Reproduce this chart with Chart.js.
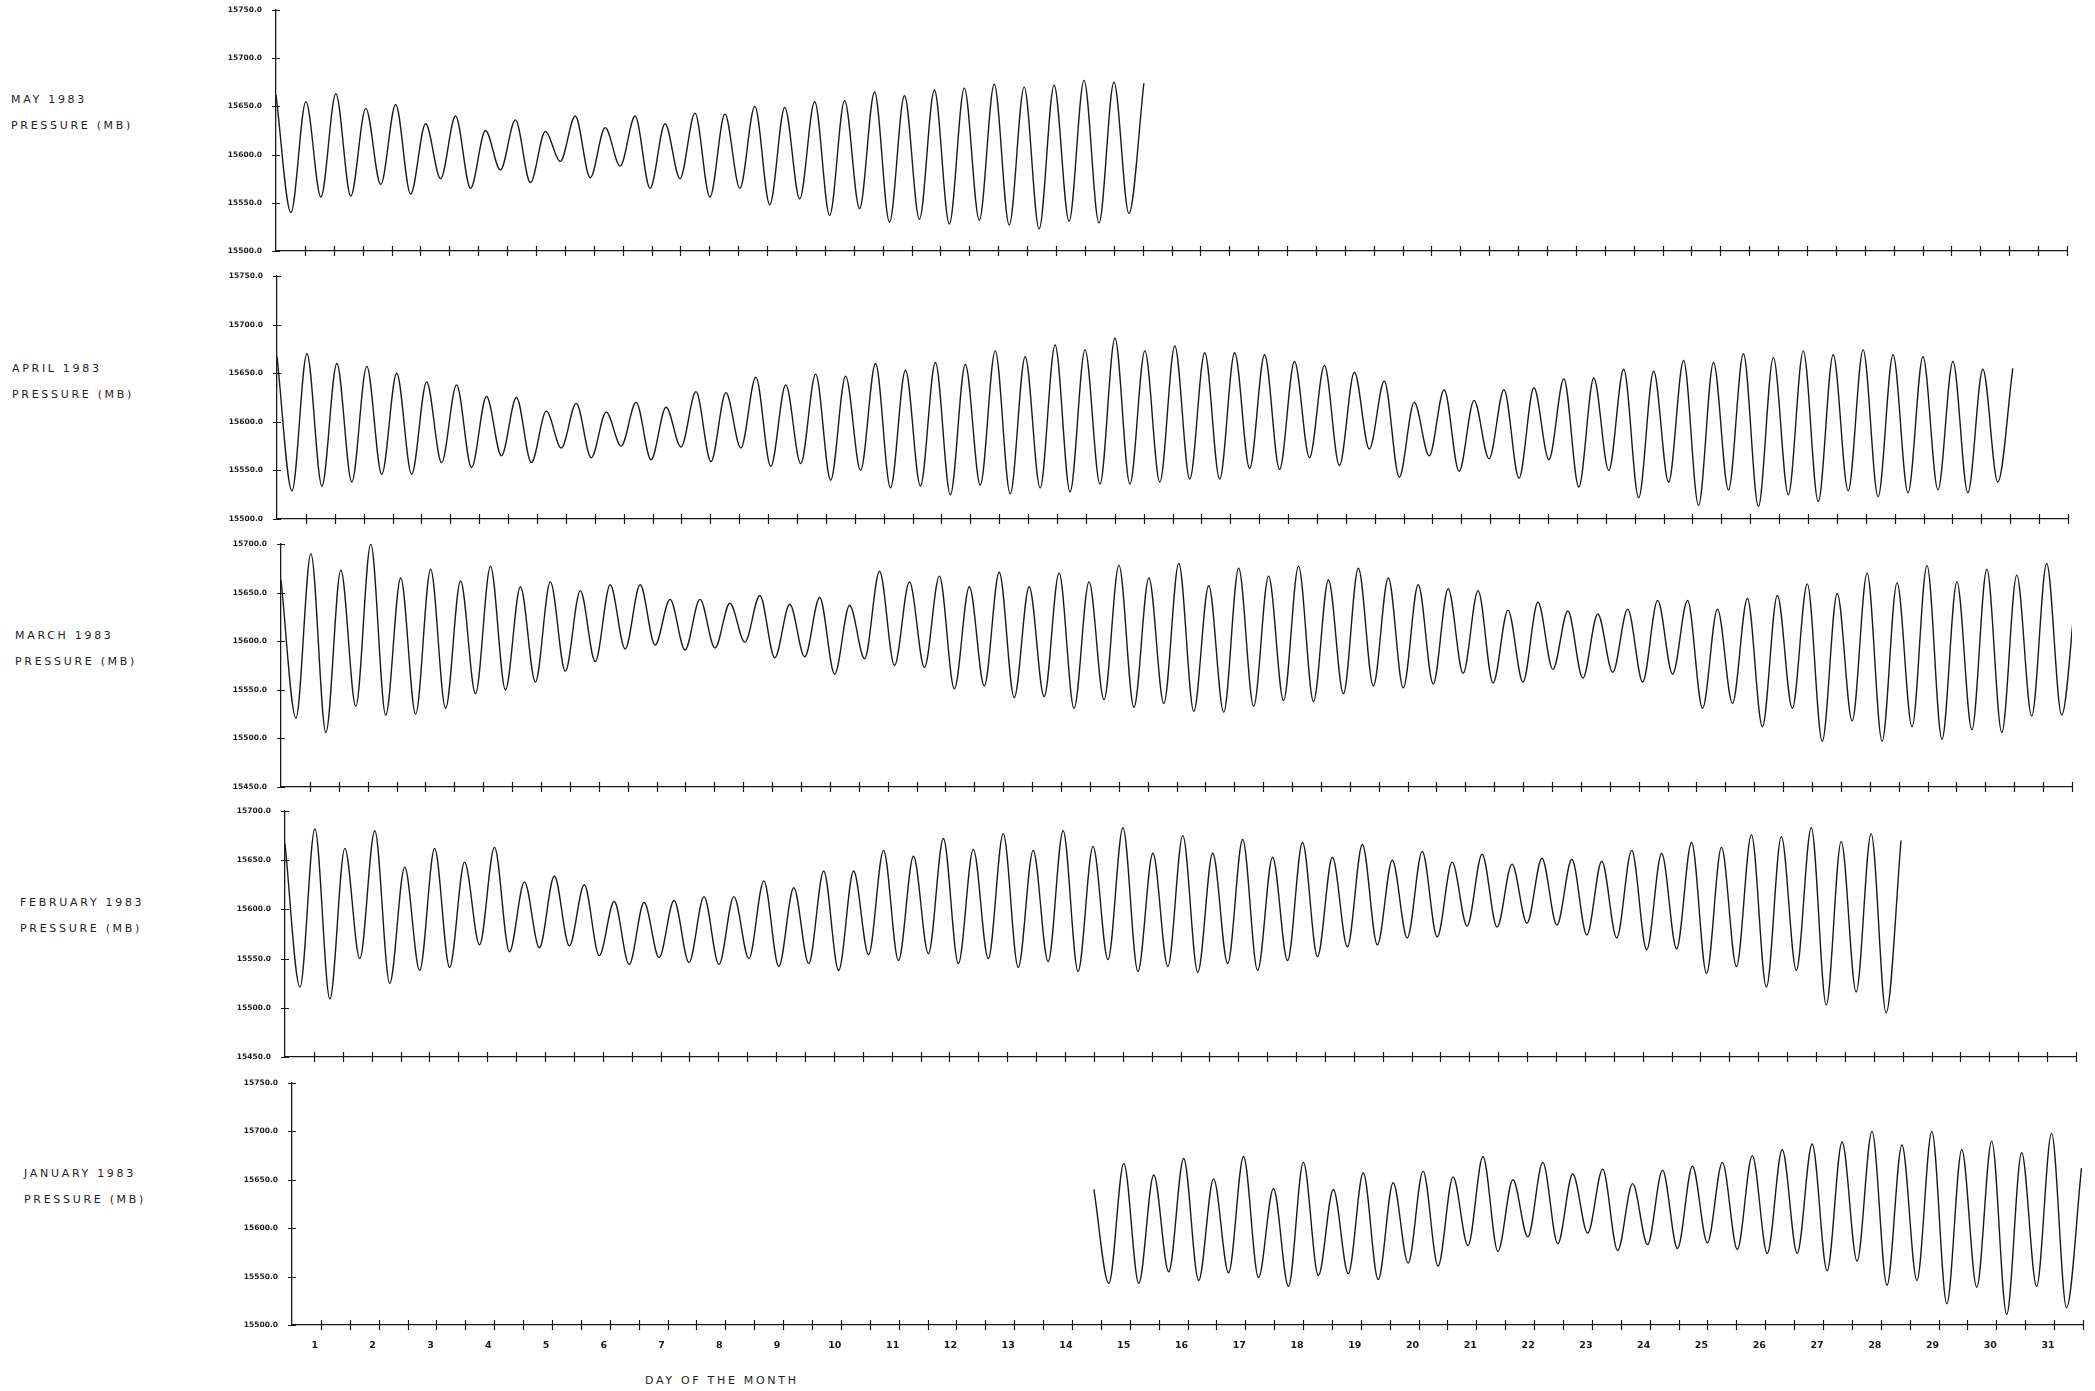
<!DOCTYPE html>
<html>
<head>
<meta charset="utf-8">
<title>Pressure (MB), January - May 1983</title>
<script src="https://cdn.jsdelivr.net/npm/chart.js@4.4.1/dist/chart.umd.min.js"></script>
<style>
  html, body { margin: 0; padding: 0; background: #fff; }
  #page { position: relative; width: 2095px; height: 1391px; overflow: hidden; background: #fff; }
  #page canvas { position: absolute; }
  .lbl {
    position: absolute;
    font-family: "DejaVu Sans", sans-serif;
    font-size: 11px;
    letter-spacing: 2.7px;
    line-height: 26px;
    color: #1e1e1e;
    white-space: pre;
  }
</style>
</head>
<body>
<div id="page"></div>
<script>
// tick labels along the bottom axis
const dayLabels = ['1', '2', '3', '4', '5', '6', '7', '8', '9', '10', '11', '12', '13', '14', '15', '16',
  '17', '18', '19', '20', '21', '22', '23', '24', '25', '26', '27', '28', '29', '30', '31'];

// time between a high and the next low (days)
const halfCycle = 0.259;

// highs and lows of each month's trace, in time order (mb)
const mayStart = 0.5;
const mayHigh = [15662, 15655, 15663, 15648, 15652, 15632, 15640, 15625, 15636, 15624,
  15640, 15628, 15640, 15632, 15643, 15642, 15650, 15649, 15655, 15656,
  15665, 15661, 15667, 15669, 15673, 15670, 15672, 15677, 15675, 15674];
const mayLow = [15540, 15556, 15557, 15569, 15559, 15575, 15565, 15584, 15571, 15593,
  15576, 15588, 15565, 15575, 15556, 15565, 15548, 15554, 15537, 15544,
  15530, 15533, 15528, 15532, 15527, 15523, 15531, 15529, 15539];

const aprStart = 0.5;
const aprHigh = [15667, 15670, 15660, 15657, 15650, 15641, 15638, 15626, 15625, 15611,
  15619, 15610, 15620, 15615, 15631, 15630, 15646, 15638, 15649, 15647,
  15660, 15653, 15661, 15659, 15673, 15667, 15679, 15674, 15686, 15673,
  15678, 15671, 15671, 15669, 15662, 15658, 15651, 15642, 15620, 15633,
  15622, 15633, 15635, 15644, 15645, 15654, 15652, 15663, 15661, 15670,
  15666, 15673, 15669, 15674, 15669, 15667, 15662, 15654, 15655];
const aprLow = [15529, 15534, 15538, 15546, 15546, 15558, 15553, 15565, 15558, 15573,
  15563, 15575, 15561, 15574, 15559, 15573, 15554, 15557, 15540, 15550,
  15532, 15534, 15525, 15535, 15526, 15532, 15528, 15536, 15536, 15538,
  15541, 15541, 15552, 15551, 15563, 15555, 15572, 15543, 15565, 15549,
  15562, 15542, 15561, 15533, 15550, 15522, 15538, 15514, 15530, 15513,
  15525, 15518, 15529, 15523, 15527, 15530, 15527, 15538];

const marStart = 0.5;
const marHigh = [15663, 15690, 15673, 15700, 15665, 15674, 15662, 15677, 15656, 15661,
  15652, 15658, 15658, 15643, 15643, 15639, 15647, 15638, 15645, 15637,
  15672, 15661, 15667, 15656, 15671, 15656, 15670, 15661, 15678, 15665,
  15680, 15657, 15675, 15667, 15677, 15663, 15675, 15665, 15658, 15654,
  15652, 15632, 15640, 15631, 15628, 15633, 15642, 15642, 15633, 15644,
  15647, 15659, 15649, 15670, 15660, 15678, 15661, 15674, 15668, 15680,
  15662];
const marLow = [15521, 15506, 15533, 15524, 15525, 15531, 15546, 15550, 15558, 15569,
  15579, 15592, 15596, 15591, 15593, 15599, 15583, 15584, 15566, 15582,
  15575, 15573, 15551, 15554, 15542, 15543, 15531, 15540, 15532, 15536,
  15528, 15527, 15533, 15539, 15538, 15546, 15554, 15552, 15556, 15567,
  15557, 15558, 15571, 15562, 15568, 15558, 15566, 15531, 15536, 15512,
  15531, 15497, 15518, 15497, 15512, 15499, 15509, 15506, 15523, 15524];

const febStart = 0.5;
const febHigh = [15667, 15682, 15662, 15680, 15643, 15662, 15648, 15663, 15628, 15634,
  15625, 15608, 15607, 15609, 15613, 15613, 15629, 15622, 15639, 15639,
  15660, 15654, 15672, 15661, 15677, 15660, 15680, 15664, 15683, 15657,
  15675, 15657, 15671, 15653, 15668, 15653, 15666, 15650, 15659, 15648,
  15656, 15646, 15652, 15651, 15649, 15660, 15657, 15668, 15663, 15676,
  15674, 15683, 15669, 15677, 15670];
const febLow = [15521, 15509, 15550, 15525, 15538, 15541, 15564, 15557, 15561, 15563,
  15553, 15544, 15551, 15546, 15544, 15550, 15542, 15545, 15538, 15554,
  15548, 15555, 15545, 15550, 15541, 15547, 15537, 15549, 15537, 15542,
  15536, 15545, 15538, 15548, 15552, 15562, 15564, 15571, 15572, 15583,
  15582, 15586, 15584, 15574, 15571, 15559, 15560, 15535, 15542, 15521,
  15538, 15503, 15516, 15495];

const janStart = 14.38;
const janHigh = [15640, 15667, 15655, 15672, 15651, 15674, 15641, 15668, 15640, 15657,
  15647, 15659, 15653, 15674, 15650, 15668, 15656, 15661, 15646, 15660,
  15664, 15668, 15675, 15681, 15687, 15689, 15700, 15686, 15700, 15681,
  15690, 15678, 15698, 15662];
const janLow = [15543, 15543, 15555, 15546, 15554, 15549, 15540, 15551, 15553, 15547,
  15564, 15561, 15582, 15576, 15591, 15584, 15595, 15577, 15583, 15579,
  15585, 15578, 15574, 15574, 15556, 15566, 15541, 15546, 15522, 15539,
  15511, 15540, 15518];

// ---- drawing ----
const ink = '#1a1a1a';
const pxPerDay = 57.76;
const yAxisW = 80, padTop = 8, padRight = 10;

// alternate high, low, high ... starting at the given day
function tideSeries(highs, lows, start) {
  const pts = [];
  for (let i = 0; i < highs.length; i++) {
    pts.push({ x: start + 2 * i * halfCycle, y: highs[i] });
    if (i < lows.length) pts.push({ x: start + (2 * i + 1) * halfCycle, y: lows[i] });
  }
  return pts;
}

// plotter style "+" ticks crossing both axes
const crossTicks = {
  id: 'crossTicks',
  afterDraw(chart) {
    const { ctx, chartArea, scales } = chart;
    ctx.save();
    ctx.strokeStyle = ink;
    ctx.lineWidth = 1.2;
    ctx.beginPath();
    scales.x.ticks.forEach(t => {
      if (t.value <= scales.x.min) return;
      const px = Math.round(scales.x.getPixelForValue(t.value)) + 0.5;
      ctx.moveTo(px, chartArea.bottom - 5);
      ctx.lineTo(px, chartArea.bottom + 5);
    });
    scales.y.ticks.forEach(t => {
      const py = Math.round(scales.y.getPixelForValue(t.value)) + 0.5;
      ctx.moveTo(chartArea.left - 4, py);
      ctx.lineTo(chartArea.left + 4, py);
    });
    ctx.stroke();
    ctx.restore();
  }
};

const panels = [
  { title: 'MAY 1983', high: mayHigh, low: mayLow, start: mayStart, yMin: 15500, yMax: 15750,
    left: 275.5, top: 10, bottom: 251, lx: 11, ly: 100 },
  { title: 'APRIL 1983', high: aprHigh, low: aprLow, start: aprStart, yMin: 15500, yMax: 15750,
    left: 277, top: 276, bottom: 519, lx: 12, ly: 369 },
  { title: 'MARCH 1983', high: marHigh, low: marLow, start: marStart, yMin: 15450, yMax: 15700,
    left: 280.5, top: 544, bottom: 787, lx: 15, ly: 636 },
  { title: 'FEBRUARY 1983', high: febHigh, low: febLow, start: febStart, yMin: 15450, yMax: 15700,
    left: 285, top: 811, bottom: 1057, lx: 20, ly: 903 },
  { title: 'JANUARY 1983', high: janHigh, low: janLow, start: janStart, yMin: 15500, yMax: 15750,
    left: 291.5, top: 1083, bottom: 1325, lx: 24, ly: 1174, bottomAxis: true }
];

const page = document.getElementById('page');

panels.forEach(p => {
  const label = document.createElement('div');
  label.className = 'lbl';
  label.style.left = p.lx + 'px';
  label.style.top = (p.ly - 13) + 'px';
  label.textContent = p.title + '\nPRESSURE (MB)';
  page.appendChild(label);

  const xAxisH = p.bottomAxis ? 40 : 10;
  const canvas = document.createElement('canvas');
  canvas.width = yAxisW + Math.round(31 * pxPerDay) + padRight;
  canvas.height = padTop + Math.round(p.bottom - p.top) + xAxisH;
  canvas.style.left = Math.round(p.left - yAxisW) + 'px';
  canvas.style.top = Math.round(p.top - padTop) + 'px';
  page.appendChild(canvas);

  new Chart(canvas.getContext('2d'), {
    type: 'line',
    data: {
      datasets: [{
        label: p.title,
        data: tideSeries(p.high, p.low, p.start),
        borderColor: ink,
        borderWidth: 1.4,
        pointRadius: 0,
        fill: false,
        cubicInterpolationMode: 'monotone'
      }]
    },
    options: {
      responsive: false,
      animation: false,
      devicePixelRatio: 1,
      layout: { padding: { top: padTop, right: padRight, left: 0, bottom: 0 } },
      plugins: { legend: { display: false }, tooltip: { enabled: false } },
      scales: {
        x: {
          type: 'linear',
          min: 0.5,
          max: 31.5,
          afterFit: s => { s.height = xAxisH; },
          // tick marks hidden (drawn by crossTicks); tickLength only spaces the labels
          grid: { display: false, drawTicks: true, tickLength: 15 },
          border: { display: true, color: ink, width: 1.3 },
          ticks: {
            display: !!p.bottomAxis,
            stepSize: 0.5,
            autoSkip: false,
            maxRotation: 0,
            padding: 0,
            labelOffset: -6,
            color: ink,
            font: { family: 'DejaVu Sans', size: 9.5, weight: 'bold' },
            callback: v => Number.isInteger(v) ? dayLabels[v - 1] : ''
          }
        },
        y: {
          min: p.yMin,
          max: p.yMax,
          afterFit: s => { s.width = yAxisW; },
          grid: { display: false, drawTicks: true, tickLength: 14 },
          border: { display: true, color: ink, width: 1.3 },
          ticks: {
            stepSize: 50,
            padding: 0,
            color: ink,
            font: { family: 'DejaVu Sans', size: 7.5, weight: 'bold' },
            callback: v => v.toFixed(1)
          }
        }
      }
    },
    plugins: [crossTicks]
  });
});

const axisTitle = document.createElement('div');
axisTitle.className = 'lbl';
axisTitle.style.left = '645px';
axisTitle.style.top = '1368px';
axisTitle.textContent = 'DAY OF THE MONTH';
page.appendChild(axisTitle);
</script>
</body>
</html>
